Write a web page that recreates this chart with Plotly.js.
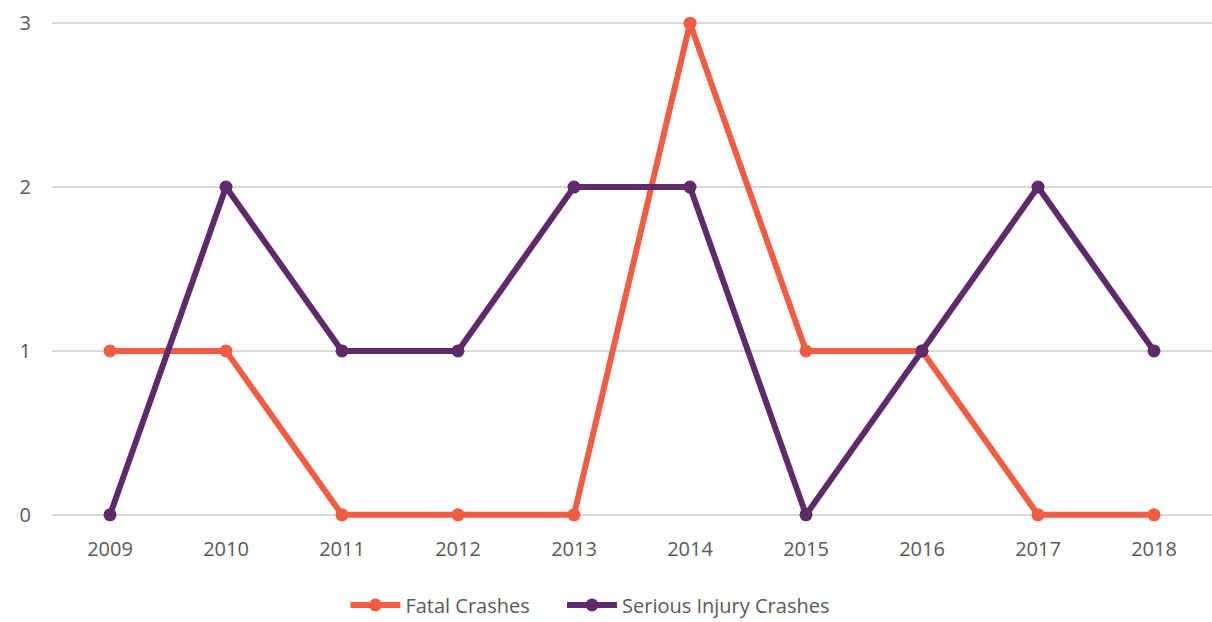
<!DOCTYPE html>
<html>
<head>
<meta charset="utf-8">
<script src="https://cdn.plot.ly/plotly-3.0.1.min.js"></script>
<style>html,body{margin:0;padding:0;background:#fff;}#chart{width:1212px;height:622px;}</style>
</head>
<body>
<div id="chart"></div>
<script>
const years = ['2009','2010','2011','2012','2013','2014','2015','2016','2017','2018'];
const fatalCrashes = [1,1,0,0,0,3,1,1,0,0];
const seriousInjuryCrashes = [0,2,1,1,2,2,0,1,2,1];
const seriesNames = ['Fatal Crashes','Serious Injury Crashes'];
const seriesColors = ['#F25C43','#5E2A6A'];
const legendIds = ['legend','legend2'];

const traces = [fatalCrashes, seriousInjuryCrashes].map((vals, i) => ({
  type: 'scatter',
  mode: 'lines+markers',
  x: years,
  y: vals,
  name: seriesNames[i],
  legend: legendIds[i],
  line: {color: seriesColors[i], width: 6},
  marker: {color: seriesColors[i], size: 13},
  cliponaxis: false
}));

const legendBase = {orientation: 'h', xref: 'container', yref: 'container', xanchor: 'left', y: 0.0273, yanchor: 'middle', font: {size: 20, color: '#595959'}, itemwidth: 50, bgcolor: 'rgba(0,0,0,0)'};

const layout = {
  width: 1212, height: 622,
  margin: {l: 52, r: 0, t: 14.8, b: 98.8, autoexpand: false},
  paper_bgcolor: '#fff', plot_bgcolor: '#fff',
  font: {family: 'Open Sans, sans-serif', size: 20, color: '#595959'},
  showlegend: true,
  legend: Object.assign({}, legendBase, {x: 0.285}),
  legend2: Object.assign({}, legendBase, {x: 0.4637}),
  xaxis: {type: 'category', showgrid: false, zeroline: false, showline: false, ticks: '', ticklabelstandoff: 12, range: [-0.5, 9.5], automargin: false},
  yaxis: {range: [-0.05, 3.05], tickvals: [0,1,2,3], showgrid: true, gridcolor: '#D9D9D9', gridwidth: 1.5, zeroline: false, showline: false, ticks: '', ticklabelstandoff: 20, automargin: false}
};

Plotly.newPlot('chart', traces, layout, {displayModeBar: false, staticPlot: true});
</script>
</body>
</html>
